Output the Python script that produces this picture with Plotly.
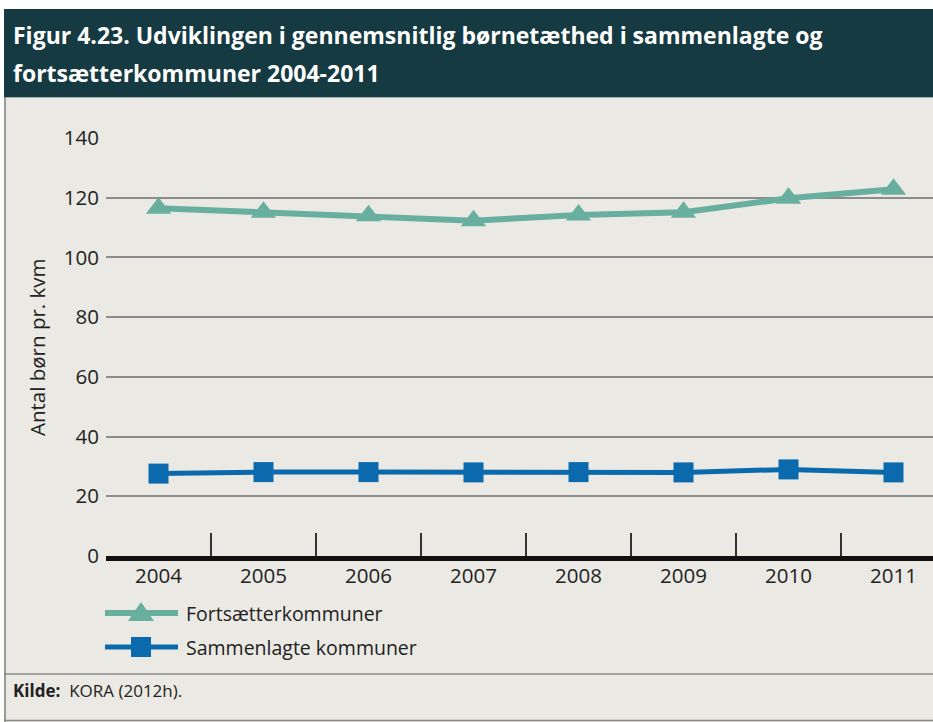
import plotly.graph_objects as go

years = ["2004", "2005", "2006", "2007", "2008", "2009", "2010", "2011"]
fortsaetter = [116.5, 115.1, 114.0, 112.3, 114.2, 115.1, 119.8, 122.8]
sammenlagte = [27.6, 28.1, 28.1, 28.0, 28.1, 28.0, 29.0, 28.0]
series_names = ["Fortsætterkommuner", "Sammenlagte kommuner"]
y_ticks = [0, 20, 40, 60, 80, 100, 120, 140]

TEAL = "#68AFA0"
BLUE = "#0B6AAD"
BODY = "#EAE9E3"
HEADER = "#163A42"
TXT = "#222222"
FONT = "Open Sans"

W, H = 933, 722
L, R, T, B = 106, 0, 138, 166
PW, PH = W - L - R, H - T - B
CAT_W = 105.0


def px(x):
    return (x - L) / PW


def py(y):
    return (H - B - y) / PH


fig = go.Figure()
fig.add_trace(go.Scatter(
    x=years, y=fortsaetter, name=series_names[0], mode="lines+markers",
    line=dict(color=TEAL, width=6),
    marker=dict(symbol="triangle-up", size=22, color=TEAL),
    showlegend=False, cliponaxis=False))
fig.add_trace(go.Scatter(
    x=years, y=sammenlagte, name=series_names[1], mode="lines+markers",
    line=dict(color=BLUE, width=5),
    marker=dict(symbol="square", size=20, color=BLUE),
    showlegend=False, cliponaxis=False))

shapes = [
    dict(type="rect", xref="paper", yref="paper", x0=px(4), x1=px(933), y0=py(97), y1=py(722),
         fillcolor=BODY, line=dict(width=0), layer="below"),
    dict(type="rect", xref="paper", yref="paper", x0=px(4), x1=px(933), y0=py(9), y1=py(97),
         fillcolor=HEADER, line=dict(width=0), layer="below"),
    dict(type="line", xref="paper", yref="paper", x0=px(4), x1=px(933), y0=py(97.5), y1=py(97.5),
         line=dict(color="#9FB0B0", width=1), layer="below"),
    dict(type="line", xref="paper", yref="paper", x0=px(5), x1=px(5), y0=py(97), y1=py(722),
         line=dict(color="#7F7F7F", width=1.5), layer="below"),
    dict(type="line", xref="paper", yref="paper", x0=px(4), x1=px(933), y0=py(674), y1=py(674),
         line=dict(color="#8A8A8A", width=1.5), layer="below"),
    dict(type="line", xref="paper", yref="paper", x0=px(4), x1=px(933), y0=py(720.5), y1=py(720.5),
         line=dict(color="#8A8A8A", width=1.5), layer="below"),
]

leg_rows = [(613, TEAL, 6, "tri"), (647, BLUE, 5, "sq")]
for yy, col, lw, kind in leg_rows:
    shapes.append(dict(type="line", xref="paper", yref="paper", x0=px(105), x1=px(178),
                       y0=py(yy), y1=py(yy), line=dict(color=col, width=lw)))
    if kind == "tri":
        path = "M {} {} L {} {} L {} {} Z".format(px(128), py(yy + 8), px(154), py(yy + 8), px(141), py(yy - 11))
        shapes.append(dict(type="path", xref="paper", yref="paper", path=path,
                           fillcolor=col, line=dict(width=0)))
    else:
        shapes.append(dict(type="rect", xref="paper", yref="paper", x0=px(131), x1=px(151),
                           y0=py(yy - 10), y1=py(yy + 10), fillcolor=col, line=dict(width=0)))

annotations = [
    dict(text="<b>Figur 4.23. Udviklingen i gennemsnitlig børnetæthed i sammenlagte og</b>",
         xref="paper", yref="paper", x=px(11), y=py(35), xanchor="left", yanchor="middle",
         showarrow=False, font=dict(family=FONT, size=23, color="white")),
    dict(text="<b>fortsætterkommuner 2004-2011</b>",
         xref="paper", yref="paper", x=px(11), y=py(73), xanchor="left", yanchor="middle",
         showarrow=False, font=dict(family=FONT, size=23, color="white")),
    dict(text="Antal børn pr. kvm", textangle=-90,
         xref="paper", yref="paper", x=px(37), y=py(347), xanchor="center", yanchor="middle",
         showarrow=False, font=dict(family=FONT, size=20.5, color=TXT)),
    dict(text=series_names[0], xref="paper", yref="paper", x=px(184), y=py(613),
         xanchor="left", yanchor="middle", showarrow=False,
         font=dict(family=FONT, size=19.5, color=TXT)),
    dict(text=series_names[1], xref="paper", yref="paper", x=px(184), y=py(647),
         xanchor="left", yanchor="middle", showarrow=False,
         font=dict(family=FONT, size=19.5, color=TXT)),
    dict(text="<b>Kilde:</b>  KORA (2012h).", xref="paper", yref="paper", x=px(11), y=py(690),
         xanchor="left", yanchor="middle", showarrow=False,
         font=dict(family=FONT, size=17, color=TXT)),
]

fig.update_layout(
    width=W, height=H, autosize=False,
    margin=dict(l=L, r=R, t=T, b=B, pad=0),
    paper_bgcolor="white", plot_bgcolor="rgba(0,0,0,0)",
    shapes=shapes, annotations=annotations, showlegend=False,
    font=dict(family=FONT, color=TXT),
)
fig.update_xaxes(
    type="category", categoryorder="array", categoryarray=years,
    range=[-0.5, -0.5 + PW / CAT_W],
    showgrid=False, zeroline=False,
    showline=True, linecolor="#111111", linewidth=5,
    ticks="inside", tickson="boundaries", ticklen=23, tickwidth=1.5, tickcolor="#333333",
    tickfont=dict(family=FONT, size=20.5, color=TXT), ticklabelstandoff=-3,
)
fig.update_yaxes(
    range=[0, 140], tickvals=y_ticks, ticktext=[str(v) for v in y_ticks],
    showgrid=True, gridcolor="#8C8C8C", gridwidth=1.5,
    zeroline=False, showline=False, ticks="",
    tickfont=dict(family=FONT, size=20.5, color=TXT), ticklabelstandoff=6,
)

fig.write_html(
    "out.html",
    config={"displayModeBar": False},
    post_script="document.body.style.margin='0';document.body.style.overflow='hidden';",
)
